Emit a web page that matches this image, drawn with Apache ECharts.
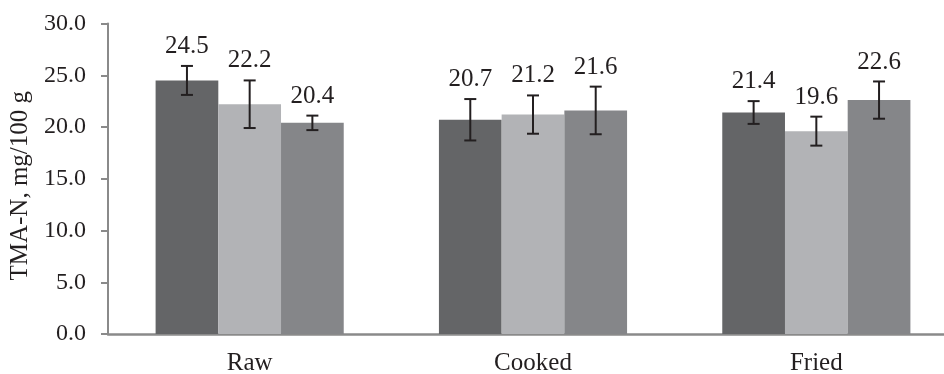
<!DOCTYPE html>
<html>
<head>
<meta charset="utf-8">
<script src="https://cdn.jsdelivr.net/npm/echarts@6/dist/echarts.min.js"></script>
<style>
  html, body { margin: 0; padding: 0; background: #fff; }
  #chart { width: 944px; height: 374px; }
</style>
</head>
<body>
<div id="chart"></div>
<script>
const categories = ['Raw', 'Cooked', 'Fried'];
const series1 = [24.5, 20.7, 21.4];
const series2 = [22.2, 21.2, 19.6];
const series3 = [20.4, 21.6, 22.6];
const errors1 = [1.4, 2.0, 1.1];
const errors2 = [2.3, 1.85, 1.4];
const errors3 = [0.7, 2.3, 1.8];
const yTicks = [0, 5, 10, 15, 20, 25, 30];

const barColors = ['#646567', '#b2b3b6', '#858689'];
const textColor = '#231f20';
const axisColor = '#8a8a8a';
const font = 'Liberation Serif';
const gapRatio = 0.336;

const allValues = [series1, series2, series3];
const allErrors = [errors1, errors2, errors3];

// error bars + value labels, one item per bar
const errData = [];
categories.forEach((c, i) => {
  allValues.forEach((vals, s) => {
    errData.push([i, s, vals[i], allErrors[s][i]]);
  });
});

const chart = echarts.init(document.getElementById('chart'));

const option = {
  animation: false,
  grid: { left: 108, right: -14, top: 23.5, bottom: 40, outerBoundsMode: 'none' },
  xAxis: {
    type: 'category',
    data: categories,
    axisLine: { lineStyle: { color: axisColor, width: 2.5 } },
    axisTick: { show: false },
    axisLabel: { color: textColor, fontFamily: font, fontSize: 25, margin: 17 }
  },
  yAxis: {
    type: 'value',
    min: yTicks[0],
    max: yTicks[yTicks.length - 1],
    interval: 5,
    name: 'TMA-N, mg/100 g',
    nameLocation: 'middle',
    nameGap: 72,
    nameTextStyle: { color: textColor, fontFamily: font, fontSize: 25, padding: [0, 14, 0, 0] },
    axisLine: { show: true, lineStyle: { color: axisColor, width: 2 } },
    axisTick: { show: true, length: 7, lineStyle: { color: axisColor, width: 2 } },
    axisLabel: {
      color: textColor, fontFamily: font, fontSize: 24, margin: 22,
      formatter: v => v.toFixed(1)
    },
    splitLine: { show: false }
  },
  series: [
    ...allValues.map((vals, s) => ({
      type: 'bar',
      data: vals,
      barGap: '0%',
      barCategoryGap: (gapRatio * 100) + '%',
      itemStyle: { color: barColors[s] }
    })),
    {
      type: 'custom',
      data: errData,
      z: 10,
      renderItem: (params, api) => {
        const cat = api.value(0);
        const s = api.value(1);
        const val = api.value(2);
        const err = api.value(3);
        const catW = api.size([1, 0])[0];
        const barW = catW * (1 - gapRatio) / 3;
        const base = api.coord([cat, val]);
        const x = base[0] + (s - 1) * barW;
        const top = api.coord([cat, val + err])[1];
        const bot = api.coord([cat, val - err])[1];
        const cap = 6;
        const style = { stroke: textColor, lineWidth: 2 };
        return {
          type: 'group',
          children: [
            { type: 'line', shape: { x1: x, y1: top, x2: x, y2: bot }, style },
            { type: 'line', shape: { x1: x - cap, y1: top, x2: x + cap, y2: top }, style },
            { type: 'line', shape: { x1: x - cap, y1: bot, x2: x + cap, y2: bot }, style },
            {
              type: 'text',
              x: x, y: top - 7,
              style: {
                text: val.toFixed(1),
                fill: textColor,
                font: '25px "' + font + '"',
                align: 'center',
                verticalAlign: 'bottom'
              }
            }
          ]
        };
      }
    }
  ]
};

chart.setOption(option);
</script>
</body>
</html>
